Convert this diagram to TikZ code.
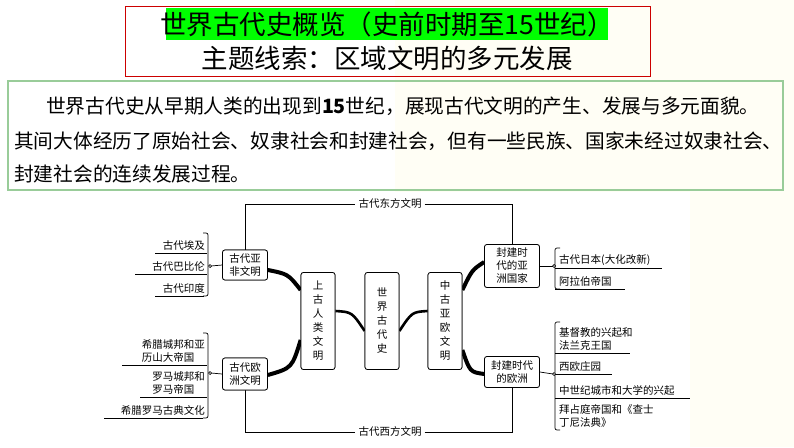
\documentclass[tikz,border=0pt]{standalone}
\usepackage{fontspec}
\newfontfamily\cjk{Noto Sans CJK SC}
\begin{document}
\begin{tikzpicture}[x=1pt,y=-1pt,
  box/.style={draw,rounded corners=2.5pt,line width=0.7pt,fill=white,align=center,font=\cjk\fontsize{10.5}{13}\selectfont,inner sep=2pt},
  vbox/.style={box,minimum width=34pt,minimum height=97pt,font=\cjk\fontsize{10.5}{14}\selectfont},
  leaf/.style={font=\cjk\fontsize{10.5}{13}\selectfont,align=left,inner sep=1pt},
  thick1/.style={line width=4pt},
  mid1/.style={line width=2.6pt},
  tr/.style={line width=0.7pt}]
\useasboundingbox (0,0) rectangle (794,447);
\fill[white] (0,0) rectangle (794,447);
\fill[yellow!4!white] (395,0) rectangle (794,192);
\fill[yellow!4!white] (690,192) rectangle (794,447);
% title
\draw[red!80!black,line width=1pt] (125,6) rectangle (650,76);
\fill[green] (166,8) rectangle (608,40);
\node[font=\cjk\fontsize{26.5}{28}\selectfont,inner sep=0] (t1) at (387,24) {世界古代史概览（史前时期至15世纪）};
\node[font=\cjk\fontsize{26.5}{28}\selectfont,inner sep=0] (t2) at (387,58) {主题线索：区域文明的多元发展};
% intro
\draw[green!50!black!40,line width=1.2pt] (8,81) rectangle (783,190);
\node[anchor=west,font=\cjk\fontsize{19.7}{21}\selectfont,inner sep=0] (p1) at (46,106) {世界古代史从早期人类的出现到\textbf{15}世纪，展现古代文明的产生、发展与多元面貌。};
\node[anchor=west,font=\cjk\fontsize{19.7}{21}\selectfont,inner sep=0] (p2) at (14,141) {其间大体经历了原始社会、奴隶社会和封建社会，但有一些民族、国家未经过奴隶社会、};
\node[anchor=west,font=\cjk\fontsize{19.7}{21}\selectfont,inner sep=0] (p3) at (14,174) {封建社会的连续发展过程。};
% main boxes
\node[leaf,fill=white,inner sep=3pt] (east) at (390,204) {古代东方文明};
\node[leaf,fill=white,inner sep=3pt] (west) at (390,432) {古代西方文明};
\node[vbox] (sg) at (318,321) {上\\古\\人\\类\\文\\明};
\node[vbox] (sj) at (382,321) {世\\界\\古\\代\\史};
\node[vbox] (zg) at (445,321) {中\\古\\亚\\欧\\文\\明};
\node[box,minimum width=45pt,minimum height=30pt] (yf) at (245,265) {古代亚\\非文明};
\node[box,minimum width=45pt,minimum height=32pt] (oz) at (245,374) {古代欧\\洲文明};
\node[box,minimum width=55pt,minimum height=43pt] (fy) at (512,266) {封建时\\代的亚\\洲国家};
\node[box,minimum width=55pt,minimum height=31pt] (fo) at (512,372) {封建时代\\的欧洲};
% connectors
\draw[tr] (yf.north) |- (east.west);
\draw[tr] (east.east) -| (fy.north);
\draw[tr] (oz.south) |- (west.west);
\draw[tr] (west.east) -| (fo.south);
\draw[thick1] (yf.east |- 0,270) .. controls (288,274) .. (sg.west |- 0,290);
\draw[thick1] (oz.east |- 0,375) .. controls (292,368) .. (sg.west |- 0,340);
\draw[mid1] (sg.east |- 0,311) .. controls (352,312) .. (sj.west |- 0,331);
\draw[mid1] (sj.east |- 0,331) .. controls (412,312) .. (zg.west |- 0,311);
\draw[thick1] (zg.east |- 0,290) .. controls (472,270) .. (fy.west |- 0,262);
\draw[thick1] (zg.east |- 0,350) .. controls (470,372) .. (fo.west |- 0,374);
% boxes on top of connector ends
\node[vbox] at (sg) {上\\古\\人\\类\\文\\明};
\node[vbox] at (sj) {世\\界\\古\\代\\史};
\node[vbox] at (zg) {中\\古\\亚\\欧\\文\\明};
\node[box,minimum width=45pt,minimum height=30pt] at (yf) {古代亚\\非文明};
\node[box,minimum width=45pt,minimum height=32pt] at (oz) {古代欧\\洲文明};
\node[box,minimum width=55pt,minimum height=43pt] at (fy) {封建时\\代的亚\\洲国家};
\node[box,minimum width=55pt,minimum height=31pt] at (fo) {封建时代\\的欧洲};
% left upper leaves
\node[leaf,anchor=south east] (l1) at (206,252) {古代埃及};
\node[leaf,anchor=south east] (l2) at (206,273) {古代巴比伦};
\node[leaf,anchor=south east] (l3) at (206,295) {古代印度};
\draw[tr] (155,253) -- (207,253);
\draw[tr] (135,274) -- (207,274);
\draw[tr] (155,296) -- (204,296);
\draw[tr,rounded corners=2pt] (203,233) -- (208,233) -- (208,296) -- (203,296);
\draw[tr] (yf.west) -- (211,266);
\draw[tr,fill=white] (210,266) circle (1.5);
% left lower leaves
\node[leaf,anchor=south east] (l4) at (206,364) {希腊城邦和亚\\历山大帝国};
\node[leaf,anchor=south east] (l5) at (206,396) {罗马城邦和\\罗马帝国};
\node[leaf,anchor=south east] (l6) at (206,417) {希腊罗马古典文化};
\draw[tr] (122,365) -- (207,365);
\draw[tr] (140,397) -- (207,397);
\draw[tr] (104,418) -- (203,418);
\draw[tr,rounded corners=2pt] (203,333) -- (208,333) -- (208,418) -- (203,418);
\draw[tr] (oz.west) -- (211,373);
\draw[tr,fill=white] (210,373) circle (1.5);
% right upper leaves
\node[leaf,anchor=south west] (r1) at (558,267) {古代日本(大化改新)};
\node[leaf,anchor=south west] (r2) at (558,288) {阿拉伯帝国};
\draw[tr] (555,268) -- (662,268);
\draw[tr] (555,289) -- (625,289);
\draw[tr,rounded corners=2pt] (560,248) -- (555,248) -- (555,289) -- (560,289);
\draw[tr] (fy.east) -- (553,266);
\draw[tr,fill=white] (554,266) circle (1.5);
% right lower leaves
\node[leaf,anchor=south west] (r3) at (558,352) {基督教的兴起和\\法兰克王国};
\node[leaf,anchor=south west] (r4) at (558,373) {西欧庄园};
\node[leaf,anchor=south west] (r5) at (558,397) {中世纪城市和大学的兴起};
\node[leaf,anchor=south west] (r6) at (558,429) {拜占庭帝国和《查士\\丁尼法典》};
\draw[tr] (555,353) -- (630,353);
\draw[tr] (555,374) -- (612,374);
\draw[tr] (555,398) -- (690,398);
\draw[tr,rounded corners=2pt] (560,322) -- (555,322) -- (555,430) -- (560,430);
\draw[tr] (fo.east) -- (553,374);
\draw[tr,fill=white] (554,374) circle (1.5);
\end{tikzpicture}
\end{document}
